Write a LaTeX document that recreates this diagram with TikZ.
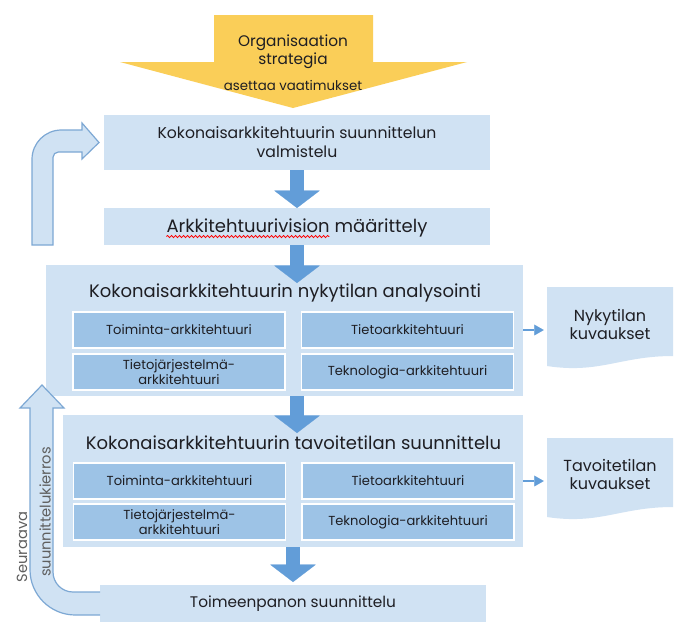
\documentclass[tikz,border=0pt]{standalone}
\usepackage{fontspec}
\setmainfont{Poppins}
\usetikzlibrary{arrows.meta,decorations.pathmorphing}

\definecolor{boxblue}{RGB}{208,226,243}
\definecolor{subblue}{RGB}{157,195,230}
\definecolor{arrowblue}{RGB}{98,157,216}
\definecolor{loopline}{RGB}{125,168,212}
\definecolor{gold}{RGB}{250,206,88}
\definecolor{txt}{RGB}{30,30,35}

\newlength\spellw

\tikzset{
	box/.style={fill=boxblue, inner sep=0pt, outer sep=0pt, align=center, text=txt},
	subbox/.style={fill=subblue, draw=white, line width=1.2pt, minimum width=159pt, minimum height=27pt, inner sep=0pt, align=center, text=txt, font=\fontsize{9.8}{9.6}\selectfont},
	headtext/.style={inner sep=0pt, text=txt, font=\fontsize{13.5}{15}\selectfont},
	doctext/.style={inner sep=0pt, minimum width=94.5pt, align=center, text=txt, font=\fontsize{12}{13.5}\selectfont},
	looptext/.style={inner sep=0pt, rotate=90, text={rgb,255:red,95;green,95;blue,95}, font=\fontsize{11}{13}\selectfont},
	flow/.style={draw=arrowblue, line width=10.5pt, -{Triangle[width=34pt,length=13pt,line width=0.1pt]}},
	smallarr/.style={draw=arrowblue, line width=2.2pt, -{Triangle[width=8pt,length=7pt,line width=0.1pt]}},
	backarrow/.style={fill=boxblue, draw=loopline, line width=0.9pt},
	spell/.style={draw=red, line width=0.6pt, decorate, decoration={snake, amplitude=0.8pt, segment length=3pt}}
}

\begin{document}
\settowidth\spellw{\fontsize{13.5}{15}\selectfont Arkkitehtuurivision}
\begin{tikzpicture}[x=0.75pt,y=-0.75pt]
	\fill[white] (0,0) rectangle (685,633);
	\useasboundingbox (0,0) rectangle (685,633);
	
	%strategy arrow on top
	\fill[gold] (214,15) -- (373,15) -- (373,62) -- (467,62) -- (293,108) -- (120,62) -- (214,62) -- cycle;
	\node[align=center, text=txt, font=\fontsize{11.5}{13.5}\selectfont] (strategy) at (293,52) {Organisaation\\strategia};
	\node[text=txt, font=\fontsize{10}{11}\selectfont] (demands) at (293,85) {asettaa vaatimukset};
	
	%the boxes of the process
	\node[box, minimum width=289.5pt, minimum height=41.25pt, font=\fontsize{11.75}{14.25}\selectfont] (prep) at (297,142.5) {Kokonaisarkkitehtuurin suunnittelun\\valmistelu};
	\node[box, minimum width=289.5pt, minimum height=27.75pt] (vision) at (297,226.5) {};
	\node[headtext] (visiontext) at (297,228) {Arkkitehtuurivision määrittely};
	\draw[spell] ([yshift=-3pt]visiontext.base west) -- ++(\spellw,0);
	
	%current state
	\node[box, minimum width=357.75pt, minimum height=98.25pt] (current) at (284.5,330.5) {};
	\node[headtext] (currenthead) at (285,293) {Kokonaisarkkitehtuurin nykytilan analysointi};
	\node[subbox] (cur1) at (179,330) {Toiminta-arkkitehtuuri};
	\node[subbox] (cur2) at (407.5,330) {Tietoarkkitehtuuri};
	\node[subbox] (cur3) at (179,372) {Tietojärjestelmä-\\arkkitehtuuri};
	\node[subbox] (cur4) at (407.5,372) {Teknologia-arkkitehtuuri};
	
	%target state
	\node[box, minimum width=345pt, minimum height=99pt] (target) at (293,481) {};
	\node[headtext] (targethead) at (293.5,443) {Kokonaisarkkitehtuurin tavoitetilan suunnittelu};
	\node[subbox] (tgt1) at (179.5,481) {Toiminta-arkkitehtuuri};
	\node[subbox] (tgt2) at (408,481) {Tietoarkkitehtuuri};
	\node[subbox] (tgt3) at (179.5,522) {Tietojärjestelmä-\\arkkitehtuuri};
	\node[subbox] (tgt4) at (408,522) {Teknologia-arkkitehtuuri};
	
	%the documents
	\fill[boxblue] (547,287) -- (673,287) -- (673,356) .. controls (620,356) and (600,374) .. (547,366) -- cycle;
	\node[doctext] (currentdoc) at (610,324) {Nykytilan\\kuvaukset};
	\fill[boxblue] (547,438) -- (673,438) -- (673,507) .. controls (620,507) and (600,525) .. (547,517) -- cycle;
	\node[doctext] (targetdoc) at (610,474) {Tavoitetilan\\kuvaukset};
	
	%implementation
	\node[box, minimum width=289.5pt, minimum height=27.75pt, font=\fontsize{11.5}{14}\selectfont] (impl) at (293,603.5) {Toimeenpanon suunnittelu};
	
	%loop back arrows
	\draw[backarrow] (32,245) [rounded corners=22pt] -- (32,130) [sharp corners] -- (82,130) -- (82,123) -- ([xshift=-3.75pt]prep.west) -- (82,159) -- (82,152) [rounded corners=4pt] -- (53,152) [sharp corners] -- (53,245) -- cycle;
	\draw[backarrow] ([yshift=5.25pt]impl.south west) [rounded corners=34pt] -- (30,615) [sharp corners] -- (30,408) -- (20,408) -- (42,385) -- (64,408) -- (53,408) [rounded corners=15pt] -- (53,592) [sharp corners] -- (impl.west |- 53,592);
	\node[looptext] (nextA) at (22,547) {Seuraava};
	\node[looptext] (nextB) at (45,512) {suunnittelukierros};
	
	%flow arrows
	\draw[flow] (prep.south) -- (vision.north);
	\draw[flow] (vision.south) -- ([yshift=-13.5pt]vision.south |- current.north);
	\draw[flow] (current.south -| vision.south) -- ([yshift=-13.5pt]target.north -| vision.south);
	\draw[flow] (target.south -| impl.north) -- ([yshift=2.25pt]impl.north);
	\draw[smallarr] (current.east |- cur2.east) -- ([xshift=-2.25pt]currentdoc.west |- cur2.east);
	\draw[smallarr] (target.east |- tgt2.east) -- ([xshift=-2.25pt]targetdoc.west |- tgt2.east);
	
\end{tikzpicture}
\end{document}
